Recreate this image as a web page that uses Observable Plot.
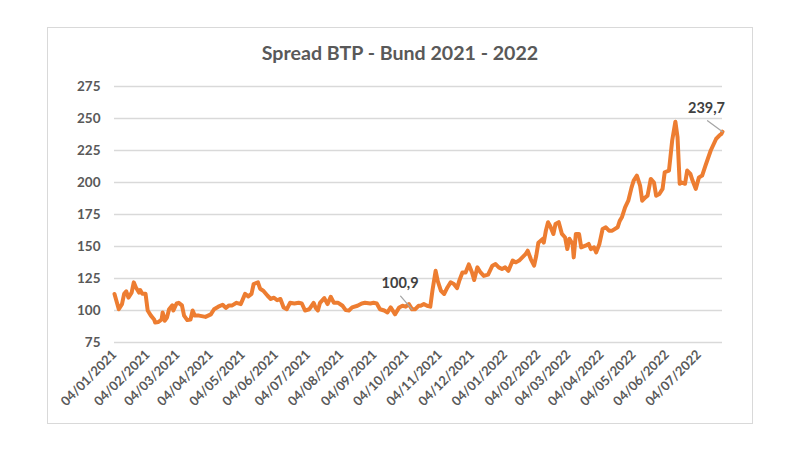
<!DOCTYPE html>
<html>
<head>
<meta charset="utf-8">
<script src="https://cdn.jsdelivr.net/npm/d3@7"></script>
<script src="https://cdn.jsdelivr.net/npm/@observablehq/plot@0.6"></script>
<style>
  html, body { margin: 0; padding: 0; background: #ffffff; }
  #wrap { position: relative; width: 800px; height: 450px; overflow: hidden; font-family: Lato, "Open Sans", sans-serif; }
  #frame { position: absolute; left: 47px; top: 27px; width: 704px; height: 395px; border: 1px solid #d9d9d9; box-sizing: content-box; }
  #title { position: absolute; left: 0; width: 800px; top: 40px; text-align: center; font-size: 19.6px; font-weight: bold; color: #595959; line-height: 26px; }
  #chart { position: absolute; left: 0; top: 0; }
</style>
</head>
<body>
<div id="wrap">
  <div id="frame"></div>
  <div id="chart"></div>
  <div id="title">Spread BTP - Bund 2021 - 2022</div>
</div>
<script>
const titleText = "Spread BTP - Bund 2021 - 2022";

const dates = [
  "2021-01-04","2021-01-08","2021-01-11","2021-01-13","2021-01-15","2021-01-17","2021-01-20","2021-01-22","2021-01-24","2021-01-27",
  "2021-01-28","2021-01-30","2021-02-02","2021-02-04","2021-02-07","2021-02-10","2021-02-11","2021-02-14","2021-02-17","2021-02-18",
  "2021-02-20","2021-02-22","2021-02-24","2021-02-27","2021-02-28","2021-03-03","2021-03-05","2021-03-08","2021-03-10","2021-03-13",
  "2021-03-16","2021-03-18","2021-03-20","2021-03-24","2021-03-30","2021-04-04","2021-04-07","2021-04-11","2021-04-15","2021-04-18",
  "2021-04-21","2021-04-24","2021-04-28","2021-05-02","2021-05-06","2021-05-09","2021-05-12","2021-05-14","2021-05-18","2021-05-20",
  "2021-05-23","2021-05-27","2021-05-30","2021-06-02","2021-06-05","2021-06-08","2021-06-11","2021-06-14","2021-06-17","2021-06-21",
  "2021-06-25","2021-06-28","2021-07-01","2021-07-05","2021-07-09","2021-07-11","2021-07-13","2021-07-15","2021-07-19","2021-07-22",
  "2021-07-25","2021-07-28","2021-08-01","2021-08-05","2021-08-08","2021-08-11","2021-08-14","2021-08-19","2021-08-23","2021-08-26",
  "2021-08-31","2021-09-03","2021-09-06","2021-09-09","2021-09-13","2021-09-16","2021-09-19","2021-09-22","2021-09-23","2021-09-27",
  "2021-09-30","2021-10-03","2021-10-06","2021-10-09","2021-10-12","2021-10-15","2021-10-17","2021-10-20","2021-10-23","2021-10-26",
  "2021-10-28","2021-10-31","2021-11-02","2021-11-05","2021-11-08","2021-11-11","2021-11-14","2021-11-17","2021-11-20","2021-11-22",
  "2021-11-25","2021-11-28","2021-12-01","2021-12-04","2021-12-06","2021-12-09","2021-12-12","2021-12-15","2021-12-19","2021-12-23",
  "2021-12-26","2021-12-29","2022-01-01","2022-01-04","2022-01-07","2022-01-11","2022-01-14","2022-01-17","2022-01-20","2022-01-23",
  "2022-01-25","2022-01-28","2022-01-31","2022-02-02","2022-02-04","2022-02-08","2022-02-09","2022-02-11","2022-02-13","2022-02-15",
  "2022-02-18","2022-02-20","2022-02-23","2022-02-26","2022-03-01","2022-03-03","2022-03-05","2022-03-08","2022-03-09","2022-03-11",
  "2022-03-14","2022-03-16","2022-03-20","2022-03-23","2022-03-25","2022-03-28","2022-03-30","2022-04-02","2022-04-05","2022-04-08",
  "2022-04-11","2022-04-14","2022-04-19","2022-04-21","2022-04-23","2022-04-26","2022-04-29","2022-05-02","2022-05-04","2022-05-07",
  "2022-05-10","2022-05-12","2022-05-15","2022-05-17","2022-05-20","2022-05-23","2022-05-25","2022-05-28","2022-05-31","2022-06-02",
  "2022-06-06","2022-06-09","2022-06-12","2022-06-14","2022-06-16","2022-06-18","2022-06-21","2022-06-23","2022-06-26","2022-06-28",
  "2022-07-01","2022-07-04","2022-07-07","2022-07-10","2022-07-15","2022-07-20","2022-07-23","2022-07-25","2022-07-26"
];

const spread = [
  112.9,101,105,113,115,110,114,122,118,114,
  116,113,113,100,96,93,90.6,91,93,98.5,
  92,94.5,101,104,100,105.5,106,104,96,92.5,
  93,100,96,96,95,97,101,103,104.5,102,
  104,104,106,105,113,111,113,120.7,122,117,
  115.5,111.5,109,110,108,109,102.4,101,106,105.5,
  106,105.5,100,101,106,102,100,106,109.7,105,
  110.7,106,106,103.7,100.3,100,102.4,103.7,105.5,106,
  105.5,106,105.5,101,100,98.5,102.4,98.5,97,102.4,
  103.7,103,105,100.9,101,103.7,103.7,105,103.7,103,
  115.4,131,123,115.4,112.9,118,122,120.7,117.5,123,
  129.7,129.7,136,129.7,123.8,133.7,129.7,127,128,135,
  136.3,133.7,132.4,133.7,131,139,137.6,139,141.5,144,
  146.7,140,135,142.8,153,155.9,153,162.4,169,166,
  159.8,167.6,169,159.8,157,148,156,152,141.5,159.8,
  159.8,149.3,150.6,152,148,149.3,145.4,152,163.7,165,
  162.4,162.4,165,170,172.8,180.6,185.8,196,201.5,205.4,
  197.6,185.8,188.4,189.7,202.8,200,189.7,191,195,208,
  209.3,232.8,247.5,235.3,199,200,199,209.3,206.7,201.5,
  195,204,205.4,213,225,234,236.7,238,239.7
];

const yTicks = [75, 100, 125, 150, 175, 200, 225, 250, 275];
const xTickLabels = [
  "04/01/2021","04/02/2021","04/03/2021","04/04/2021","04/05/2021","04/06/2021","04/07/2021",
  "04/08/2021","04/09/2021","04/10/2021","04/11/2021","04/12/2021","04/01/2022","04/02/2022",
  "04/03/2022","04/04/2022","04/05/2022","04/06/2022","04/07/2022"
];

const annDates = ["2021-10-09", "2022-07-26"];
const annValues = [100.9, 239.7];
const annLabels = ["100,9", "239,7"];

const parseTick = d3.utcParse("%d/%m/%Y");
const fmtTick = d3.utcFormat("%d/%m/%Y");
const xTicks = xTickLabels.map(parseTick);
const data = dates.map((d, i) => ({date: new Date(d), value: spread[i]}));
const ann = annDates.map((d, i) => ({date: new Date(d), value: annValues[i], label: annLabels[i]}));

const leaderShape = { draw(context, l) { context.moveTo(0, 0); context.lineTo(0, -l); } };
const annStyle = [
  {dx: -12, dy: -26, rotate: -41, length: 17.5},
  {dx: -16, dy: -23, rotate: -54, length: 18.5}
];

const chart = Plot.plot({
  width: 800,
  height: 450,
  marginLeft: 114,
  marginRight: 78,
  marginTop: 86,
  marginBottom: 108,
  style: {fontFamily: "Lato, 'Open Sans', sans-serif", color: "#595959", background: "transparent", overflow: "visible"},
  x: {type: "utc", domain: [new Date(dates[0]), new Date(dates[dates.length - 1])]},
  y: {domain: [75, 275]},
  marks: [
    Plot.gridY(yTicks, {stroke: "#d9d9d9", strokeOpacity: 1, strokeWidth: 1.3}),
    Plot.axisY(yTicks, {tickSize: 0, tickPadding: 14, fontSize: 13.5, fontWeight: "bold", fill: "#595959", label: null}),
    Plot.axisX(xTicks, {tickSize: 0, tickPadding: 10, tickRotate: -45, tickFormat: fmtTick, fontSize: 13, fontWeight: "bold", fill: "#595959", label: null}),
    Plot.lineY(data, {x: "date", y: "value", stroke: "#ED7D31", strokeWidth: 4, strokeLinejoin: "round", curve: "linear"}),
    ...ann.map((a, i) => Plot.vector([a], {x: "date", y: "value", rotate: annStyle[i].rotate, length: annStyle[i].length, anchor: "start", shape: leaderShape, stroke: "#a6a6a6", strokeWidth: 1.3})),
    ...ann.map((a, i) => Plot.text([a], {x: "date", y: "value", text: "label", dx: annStyle[i].dx, dy: annStyle[i].dy, fontSize: 14.5, fontWeight: "bold", fill: "#404040"}))
  ]
});
document.getElementById("chart").appendChild(chart);
</script>
</body>
</html>
